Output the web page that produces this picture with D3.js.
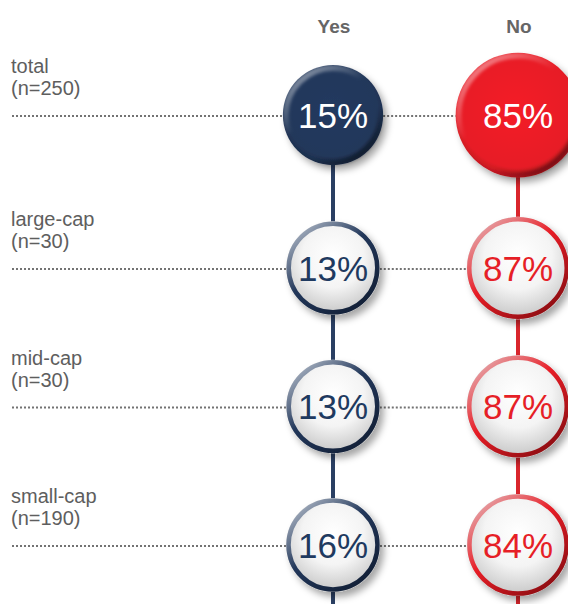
<!DOCTYPE html>
<html>
<head>
<meta charset="utf-8">
<script src="https://cdn.jsdelivr.net/npm/d3@7"></script>
<style>
  body { margin: 0; background: #fff; }
  text { font-family: "Liberation Sans", Arial, sans-serif; }
  .naslov { font-size: 19px; font-weight: bold; fill: #666; }
  .oznaka { font-size: 20px; fill: #5e5e5e; }
  .postotak { font-size: 35px; }
</style>
</head>
<body>
<div id="okvir"></div>
<script>
// podaci
const kategorije = ["total", "large-cap", "mid-cap", "small-cap"]
const uzorci = [250, 30, 30, 190]
const odgovori = ["Yes", "No"]
const da = [15, 13, 13, 16]
const ne = [85, 87, 87, 84]

function crtaj() {
  const sirina = 568, visina = 604

  const okvir = d3.select("#okvir").append("svg")
    .attr("width", sirina)
    .attr("height", visina)

  const boje = {
    Yes: { osnova: "#22375a", tamna: "#121f36", svijetla: "#a9b3c2", linija: "#2a3f63", tekst: "#1f3a60" },
    No:  { osnova: "#e71d26", tamna: "#8c0d12", svijetla: "#e6a9ac", linija: "#d9252c", tekst: "#e61f27" }
  }

  const x = d3.scalePoint().domain(odgovori).range([333, 518])
  // total red je izdvojen, ostali su jednako razmaknuti
  const yRed = d3.scalePoint().domain(kategorije.slice(1)).range([268, 545])
  const y = k => k === "total" ? 115 : yRed(k)

  const rUkupno = d3.scaleLinear().domain([0, 100]).range([47.5, 65])
  const rRed = d3.scaleLinear().domain([0, 100]).range([46, 52])

  const redovi = kategorije.map((k, i) => ({
    kat: k, n: uzorci[i], Yes: da[i], No: ne[i], ukupno: k === "total"
  }))
  const radijus = (d, o) => d.ukupno ? rUkupno(d[o]) : rRed(d[o])

  const defs = okvir.append("defs")
  const sjena = defs.append("filter").attr("id", "sjena")
    .attr("x", "-30%").attr("y", "-30%").attr("width", "170%").attr("height", "170%")
  sjena.append("feDropShadow")
    .attr("dx", 4).attr("dy", 5).attr("stdDeviation", 3.5)
    .attr("flood-color", "#000").attr("flood-opacity", 0.35)

  const zamut = defs.append("filter").attr("id", "zamut")
  zamut.append("feGaussianBlur").attr("stdDeviation", 1.5)

  odgovori.forEach(o => {
    const b = boje[o]
    const pun = defs.append("radialGradient").attr("id", `pun-${o}`)
      .attr("cx", "48%").attr("cy", "45%").attr("r", "55%")
    pun.append("stop").attr("offset", "0%").attr("stop-color", d3.color(b.osnova).brighter(0.15))
    pun.append("stop").attr("offset", "85%").attr("stop-color", b.osnova)
    pun.append("stop").attr("offset", "100%").attr("stop-color", d3.color(b.osnova).darker(0.6))

    const obrub = defs.append("linearGradient").attr("id", `obrub-${o}`)
      .attr("x1", "10%").attr("y1", "5%").attr("x2", "85%").attr("y2", "95%")
    obrub.append("stop").attr("offset", "0%").attr("stop-color", b.svijetla)
    obrub.append("stop").attr("offset", "45%").attr("stop-color", b.osnova)
    obrub.append("stop").attr("offset", "100%").attr("stop-color", b.tamna)

    const sjaj = defs.append("linearGradient").attr("id", `sjaj-${o}`)
      .attr("x1", "15%").attr("y1", "5%").attr("x2", "85%").attr("y2", "95%")
    sjaj.append("stop").attr("offset", "0%").attr("stop-color", "#fff").attr("stop-opacity", 0.45)
    sjaj.append("stop").attr("offset", "40%").attr("stop-color", "#fff").attr("stop-opacity", 0)
    sjaj.append("stop").attr("offset", "70%").attr("stop-color", "#000").attr("stop-opacity", 0)
    sjaj.append("stop").attr("offset", "100%").attr("stop-color", "#000").attr("stop-opacity", 0.45)
  })

  const bijela = defs.append("radialGradient").attr("id", "bijela")
    .attr("cx", "50%").attr("cy", "38%").attr("r", "60%")
  bijela.append("stop").attr("offset", "0%").attr("stop-color", "#ffffff")
  bijela.append("stop").attr("offset", "55%").attr("stop-color", "#f4f4f4")
  bijela.append("stop").attr("offset", "100%").attr("stop-color", "#c9c9c9")

  // zaglavlja
  okvir.selectAll(".naslov")
    .data(odgovori)
    .enter().append("text")
      .attr("class", "naslov")
      .attr("x", d => x(d) + 1)
      .attr("y", 33)
      .attr("text-anchor", "middle")
      .text(d => d)

  // vertikalne linije
  okvir.selectAll(".vlinija")
    .data(odgovori)
    .enter().append("line")
      .attr("x1", d => x(d)).attr("x2", d => x(d))
      .attr("y1", y("total")).attr("y2", visina)
      .attr("stroke", d => boje[d].linija)
      .attr("stroke-width", 4)

  const red = okvir.selectAll(".red")
    .data(redovi)
    .enter().append("g")
      .attr("class", "red")
      .attr("transform", d => `translate(0, ${y(d.kat)})`)

  red.append("text")
    .attr("class", "oznaka")
    .attr("x", 11)
    .attr("y", -42)
    .text(d => d.kat)

  red.append("text")
    .attr("class", "oznaka")
    .attr("x", 11)
    .attr("y", -20)
    .text(d => `(n=${d.n})`)

  // isprekidane linije
  red.append("line")
    .attr("x1", 12)
    .attr("x2", d => x("Yes") - radijus(d, "Yes"))
    .attr("y1", 1).attr("y2", 1)
    .attr("stroke", "#737373").attr("stroke-width", 2).attr("stroke-dasharray", "2,2")
  red.append("line")
    .attr("x1", d => x("Yes") + radijus(d, "Yes"))
    .attr("x2", d => x("No") - radijus(d, "No"))
    .attr("y1", 1).attr("y2", 1)
    .attr("stroke", "#737373").attr("stroke-width", 2).attr("stroke-dasharray", "2,2")

  odgovori.forEach(o => {
    const b = boje[o]
    const mjehur = red.append("g")
      .attr("transform", `translate(${x(o)}, 0)`)

    mjehur.append("circle")
      .attr("r", d => radijus(d, o))
      .attr("fill", d => d.ukupno ? `url(#pun-${o})` : "url(#bijela)")
      .attr("filter", "url(#sjena)")

    // sjaj na punim mjehurima
    mjehur.filter(d => d.ukupno).append("circle")
      .attr("r", d => radijus(d, o) - 3)
      .attr("fill", "none")
      .attr("stroke", `url(#sjaj-${o})`)
      .attr("stroke-width", 6)
      .attr("filter", "url(#zamut)")

    // obrub na bijelim mjehurima
    mjehur.filter(d => !d.ukupno).append("circle")
      .attr("r", d => radijus(d, o) - 2.5)
      .attr("fill", "none")
      .attr("stroke", `url(#obrub-${o})`)
      .attr("stroke-width", 4.5)

    mjehur.append("text")
      .attr("class", "postotak")
      .attr("text-anchor", "middle")
      .attr("dy", "0.36em")
      .attr("fill", d => d.ukupno ? "#fff" : b.tekst)
      .text(d => `${d[o]}%`)
  })
}
crtaj()
</script>
</body>
</html>
